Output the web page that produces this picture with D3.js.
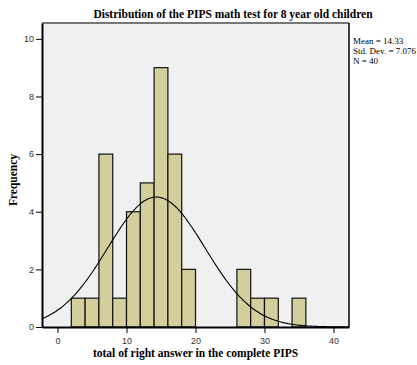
<!DOCTYPE html>
<html>
<head>
<meta charset="utf-8">
<script src="https://cdn.jsdelivr.net/npm/d3@7"></script>
<style>
  body { margin: 0; background: #fff; }
  svg { display: block; }
</style>
</head>
<body>
<svg></svg>
<script>
// bins of width 2, given by lower edge
const binStarts = [2, 4, 6, 8, 10, 12, 14, 16, 18, 26, 28, 30, 34];
const binCounts = [1, 1, 6, 1, 4, 5, 9, 6, 2, 2, 1, 1, 1];
const binWidth = 2;
const xTicks = [0, 10, 20, 30, 40];
const yTicks = [0, 2, 4, 6, 8, 10];
const mean = 14.33;
const sd = 7.076;
const n = 40;
const statLines = ['Mean = 14.33', 'Std. Dev. = 7.076', 'N = 40'];

const width = 417;
const height = 365;
const margin = { top: 23, right: 68, bottom: 38, left: 42 };
const serif = '"Times New Roman", "Liberation Serif", serif';

const svg = d3.select('svg').attr('width', width).attr('height', height);

const x = d3.scaleLinear().domain([-2.25, 42.25]).range([margin.left, width - margin.right]);
const y = d3.scaleLinear().domain([0, 10.55]).range([height - margin.bottom, margin.top]);

// plot background
svg.append('rect')
  .attr('x', margin.left)
  .attr('y', margin.top)
  .attr('width', width - margin.left - margin.right)
  .attr('height', height - margin.top - margin.bottom)
  .attr('fill', '#f0f0f0');

const bins = binStarts.map((s, i) => ({ x0: s, x1: s + binWidth, count: binCounts[i] }));

svg.append('g')
  .selectAll('rect')
  .data(bins)
  .join('rect')
  .attr('x', (d) => x(d.x0))
  .attr('y', (d) => y(d.count))
  .attr('width', (d) => x(d.x1) - x(d.x0))
  .attr('height', (d) => y(0) - y(d.count))
  .attr('fill', '#d3ce9b')
  .attr('stroke', '#111')
  .attr('stroke-width', 1.2);

// normal curve scaled to counts
const curvePts = d3.range(-2.25, 42.26, 0.25).map((v) => {
  const z = (v - mean) / sd;
  return [v, (n * binWidth / (sd * Math.sqrt(2 * Math.PI))) * Math.exp(-0.5 * z * z)];
});

svg.append('path')
  .datum(curvePts)
  .attr('fill', 'none')
  .attr('stroke', '#000')
  .attr('stroke-width', 1.1)
  .attr('d', d3.line().x((d) => x(d[0])).y((d) => y(d[1])).curve(d3.curveBasis));

// frame: gray top, black right
svg.append('line')
  .attr('x1', margin.left).attr('x2', width - margin.right)
  .attr('y1', margin.top).attr('y2', margin.top)
  .attr('stroke', '#777').attr('stroke-width', 2);
svg.append('line')
  .attr('x1', width - margin.right).attr('x2', width - margin.right)
  .attr('y1', margin.top).attr('y2', height - margin.bottom)
  .attr('stroke', '#000').attr('stroke-width', 1.5);

const xAxis = svg.append('g')
  .attr('transform', 'translate(0,' + (height - margin.bottom) + ')')
  .call(d3.axisBottom(x).tickValues(xTicks).tickSize(6).tickSizeOuter(0));
const yAxis = svg.append('g')
  .attr('transform', 'translate(' + margin.left + ',0)')
  .call(d3.axisLeft(y).tickValues(yTicks).tickSize(6).tickSizeOuter(0));

[xAxis, yAxis].forEach((g) => {
  g.select('.domain').attr('stroke', '#000').attr('stroke-width', 2);
  g.selectAll('.tick line').attr('stroke', '#000');
  g.selectAll('.tick text')
    .attr('font-family', 'Arial, "Liberation Sans", sans-serif')
    .attr('font-size', 9)
    .attr('fill', '#333');
});
xAxis.selectAll('.tick text').attr('dy', '0.9em');
yAxis.selectAll('.tick text').attr('dx', '1px');

// title and labels
svg.append('text')
  .attr('x', 233)
  .attr('y', 18)
  .attr('text-anchor', 'middle')
  .attr('font-family', serif)
  .attr('font-weight', 'bold')
  .attr('font-size', 11.5)
  .text('Distribution of the PIPS math test for 8 year old children');

svg.append('text')
  .attr('x', (margin.left + width - margin.right) / 2)
  .attr('y', 357)
  .attr('text-anchor', 'middle')
  .attr('font-family', serif)
  .attr('font-weight', 'bold')
  .attr('font-size', 11.5)
  .text('total of right answer in the complete PIPS');

svg.append('text')
  .attr('transform', 'translate(17,' + y(5.1) + ') rotate(-90)')
  .attr('text-anchor', 'middle')
  .attr('font-family', serif)
  .attr('font-weight', 'bold')
  .attr('font-size', 11.5)
  .text('Frequency');

svg.append('g')
  .selectAll('text')
  .data(statLines)
  .join('text')
  .attr('x', width - margin.right + 4)
  .attr('y', (_, i) => 44 + i * 10)
  .attr('font-family', serif)
  .attr('font-size', 9)
  .text((d) => d);
</script>
</body>
</html>
